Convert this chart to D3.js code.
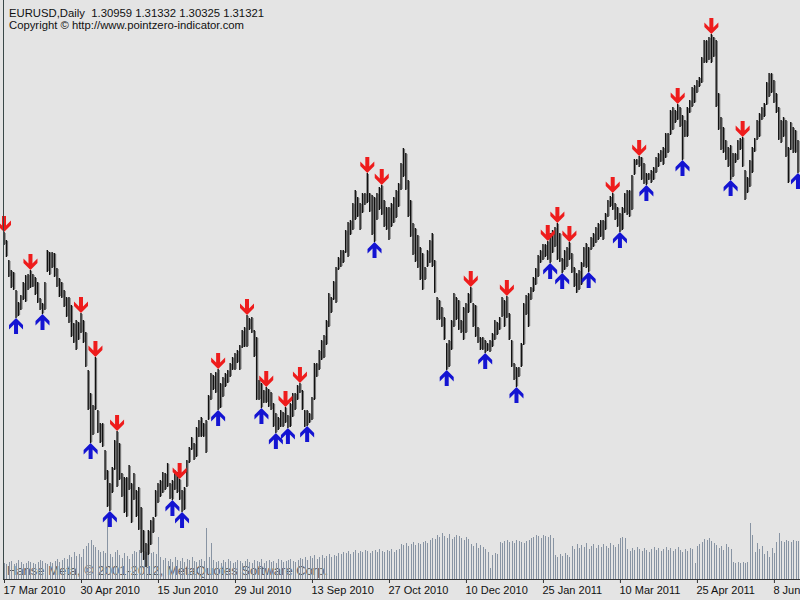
<!DOCTYPE html>
<html>
<head>
<meta charset="utf-8">
<script src="https://cdn.jsdelivr.net/npm/d3@7"></script>
<style>
  html, body { margin: 0; padding: 0; background: #e4e4e4; }
  svg { display: block; }
  text { font-family: "Liberation Sans", Arial, sans-serif; }
</style>
</head>
<body>
<svg width="800" height="600"></svg>
<script>
// daily EURUSD bars (prices)
const highs = [
  1.3808,1.3760,1.3640,1.3580,1.3568,1.3460,1.3388,1.3430,1.3508,1.3550,
  1.3556,1.3580,1.3556,1.3538,1.3508,1.3412,1.3382,1.3508,1.3700,1.3688,
  1.3688,1.3682,1.3592,1.3532,1.3508,1.3460,1.3418,1.3418,1.3370,1.3262,
  1.3280,1.3268,1.3322,1.3280,1.3208,1.2980,1.2842,1.2770,1.3058,1.2740,
  1.2662,1.2662,1.2500,1.2380,1.2302,1.2398,1.2560,1.2614,1.2542,1.2362,
  1.2338,1.2338,1.2410,1.2302,1.2362,1.2260,1.2278,1.2158,1.2020,1.1942,
  1.2020,1.2080,1.2098,1.2260,1.2302,1.2320,1.2368,1.2362,1.2422,1.2302,
  1.2320,1.2380,1.2368,1.2326,1.2260,1.2278,1.2440,1.2518,1.2578,1.2542,
  1.2638,1.2680,1.2698,1.2662,1.2680,1.2830,1.2962,1.2950,1.2968,1.2986,
  1.2902,1.2938,1.2962,1.2980,1.3022,1.3058,1.3082,1.3100,1.3130,1.3220,
  1.3238,1.3310,1.3292,1.3298,1.3220,1.3178,1.2920,1.2902,1.2860,1.2878,
  1.2866,1.2848,1.2782,1.2722,1.2698,1.2740,1.2728,1.2758,1.2710,1.2782,
  1.2842,1.2842,1.2890,1.2902,1.2860,1.2740,1.2740,1.2722,1.2818,1.3022,
  1.3022,1.3100,1.3160,1.3190,1.3280,1.3442,1.3418,1.3514,1.3598,1.3658,
  1.3700,1.3700,1.3820,1.3868,1.3880,1.3982,1.4060,1.4018,1.3982,1.4042,
  1.4042,1.4162,1.4042,1.4030,1.4018,1.4042,1.4078,1.4090,1.4000,1.3958,
  1.3958,1.3982,1.4018,1.4060,1.4102,1.4222,1.4312,1.4282,1.4120,1.4000,
  1.3862,1.3832,1.3790,1.3718,1.3682,1.3598,1.3700,1.3760,1.3802,1.3640,
  1.3418,1.3400,1.3358,1.3298,1.3142,1.3160,1.3280,1.3442,1.3418,1.3400,
  1.3280,1.3358,1.3382,1.3442,1.3478,1.3382,1.3370,1.3238,1.3178,1.3178,
  1.3160,1.3142,1.3160,1.3202,1.3280,1.3268,1.3298,1.3418,1.3400,1.3424,
  1.3322,1.3160,1.3022,1.2998,1.2998,1.3142,1.3382,1.3430,1.3442,1.3478,
  1.3538,1.3592,1.3670,1.3700,1.3736,1.3736,1.3754,1.3802,1.3820,1.3838,
  1.3862,1.3802,1.3652,1.3700,1.3718,1.3748,1.3682,1.3598,1.3562,1.3580,
  1.3628,1.3718,1.3742,1.3718,1.3778,1.3802,1.3838,1.3862,1.3880,1.3880,
  1.3922,1.4000,1.4024,1.4042,1.3982,1.3958,1.3922,1.3958,1.4042,1.4060,
  1.4060,1.4150,1.4246,1.4246,1.4264,1.4258,1.4222,1.4162,1.4162,1.4180,
  1.4198,1.4258,1.4282,1.4300,1.4318,1.4402,1.4402,1.4540,1.4558,1.4540,
  1.4576,1.4558,1.4510,1.4480,1.4558,1.4600,1.4678,1.4690,1.4720,1.4738,
  1.4858,1.4960,1.4960,1.4978,1.4996,1.4978,1.4960,1.4642,1.4498,1.4438,
  1.4360,1.4318,1.4330,1.4282,1.4282,1.4360,1.4372,1.4378,1.4180,1.4138,
  1.4240,1.4318,1.4372,1.4480,1.4522,1.4558,1.4582,1.4708,1.4762,1.4762,
  1.4720,1.4642,1.4558,1.4480,1.4498,1.4480,1.4318,1.4468,1.4438,1.4420,
  1.4360
];
const lows = [
  1.3730,1.3658,1.3538,1.3472,1.3460,1.3292,1.3304,1.3340,1.3400,1.3388,
  1.3460,1.3472,1.3478,1.3430,1.3382,1.3340,1.3316,1.3340,1.3568,1.3550,
  1.3592,1.3538,1.3478,1.3418,1.3412,1.3358,1.3298,1.3262,1.3178,1.3142,
  1.3100,1.3160,1.3202,1.3142,1.2998,1.2740,1.2542,1.2590,1.2740,1.2602,
  1.2542,1.2518,1.2320,1.2158,1.2134,1.2242,1.2380,1.2278,1.2320,1.2218,
  1.2122,1.2098,1.2260,1.2062,1.2200,1.2098,1.2020,1.1882,1.1840,1.1798,
  1.1870,1.1930,1.2002,1.2098,1.2182,1.2218,1.2242,1.2260,1.2278,1.2206,
  1.2200,1.2260,1.2242,1.2200,1.2128,1.2140,1.2278,1.2422,1.2500,1.2440,
  1.2458,1.2578,1.2578,1.2578,1.2482,1.2680,1.2800,1.2860,1.2842,1.2740,
  1.2752,1.2818,1.2878,1.2902,1.2938,1.2980,1.2980,1.3022,1.2980,1.3112,
  1.3118,1.3118,1.3220,1.3202,1.3058,1.2800,1.2800,1.2752,1.2782,1.2782,
  1.2758,1.2740,1.2638,1.2602,1.2620,1.2638,1.2638,1.2662,1.2632,1.2638,
  1.2698,1.2740,1.2800,1.2842,1.2740,1.2638,1.2644,1.2662,1.2680,1.2800,
  1.2938,1.2980,1.3040,1.3052,1.3130,1.3238,1.3322,1.3400,1.3382,1.3580,
  1.3598,1.3622,1.3682,1.3658,1.3790,1.3820,1.3880,1.3898,1.3820,1.3922,
  1.3970,1.3982,1.3928,1.3790,1.3748,1.3880,1.3940,1.3910,1.3838,1.3820,
  1.3760,1.3838,1.3862,1.3892,1.3958,1.4060,1.4138,1.4060,1.3898,1.3778,
  1.3670,1.3628,1.3592,1.3520,1.3460,1.3520,1.3598,1.3622,1.3598,1.3442,
  1.3280,1.3280,1.3238,1.3160,1.2980,1.2998,1.3100,1.3238,1.3280,1.3220,
  1.3202,1.3160,1.3202,1.3322,1.3382,1.3238,1.3178,1.3142,1.3100,1.3100,
  1.3082,1.3094,1.3088,1.3118,1.3160,1.3190,1.3220,1.3298,1.3238,1.3292,
  1.3160,1.2998,1.2920,1.2878,1.2938,1.2998,1.3130,1.3310,1.3238,1.3400,
  1.3448,1.3490,1.3538,1.3622,1.3640,1.3658,1.3640,1.3622,1.3682,1.3718,
  1.3640,1.3628,1.3562,1.3580,1.3598,1.3640,1.3562,1.3478,1.3442,1.3460,
  1.3490,1.3598,1.3592,1.3568,1.3700,1.3718,1.3742,1.3760,1.3778,1.3760,
  1.3820,1.3898,1.3958,1.3940,1.3880,1.3838,1.3808,1.3820,1.3922,1.3910,
  1.3898,1.3940,1.4150,1.4210,1.4198,1.4120,1.4096,1.4090,1.4120,1.4102,
  1.4120,1.4162,1.4198,1.4228,1.4210,1.4252,1.4282,1.4390,1.4420,1.4462,
  1.4480,1.4438,1.4240,1.4378,1.4378,1.4522,1.4558,1.4582,1.4642,1.4678,
  1.4702,1.4822,1.4822,1.4840,1.4822,1.4858,1.4558,1.4420,1.4300,1.4282,
  1.4240,1.4198,1.4120,1.4138,1.4222,1.4240,1.4300,1.4198,1.4000,1.4042,
  1.4078,1.4162,1.4288,1.4360,1.4378,1.4480,1.4498,1.4570,1.4618,1.4642,
  1.4582,1.4522,1.4360,1.4342,1.4378,1.4258,1.4102,1.4300,1.4282,1.4282,
  1.4162
];
// tick volume per bar (thousands)
const volumes = [
  16,15,17,18,15,16,19,17,15,16, 18,17,16,15,17,19,18,16,15,17,
  16,18,20,17,19,21,20,24,22,27, 23,25,22,30,33,36,39,34,32,29,
  27,28,26,64,25,22,27,29,24,21, 26,23,20,25,28,27,29,26,28,27,
  29,26,27,25,42,22,19,21,18,20, 17,22,19,18,21,17,20,19,22,18,
  17,19,20,18,51,22,36,19,17,18, 16,19,17,20,18,16,17,19,18,16,
  18,20,17,16,19,18,17,20,16,18, 19,17,18,16,20,19,17,18,19,20,
  18,17,19,21,20,22,19,23,21,24, 20,22,24,21,23,25,22,24,23,26,
  25,27,26,28,25,27,29,26,28,27, 29,28,26,28,29,27,30,28,27,29,
  28,30,27,29,30,35,34,36,33,35, 37,34,36,35,37,38,36,39,41,40,
  44,42,46,43,41,45,40,42,44,43, 41,39,42,40,35,33,36,31,34,32,
  30,27,11,24,26,25,37,36,38,39, 37,38,36,39,38,37,36,38,39,41,
  42,44,43,41,44,43,42,44,41,24, 22,25,23,26,24,22,33,30,35,31,
  34,32,36,30,33,35,31,34,32,35, 33,31,36,34,32,35,41,42,41,30,
  28,31,29,32,30,28,31,29,27,30, 32,29,31,28,30,32,29,31,28,30,
  32,29,27,30,28,31,30,16,33,35, 37,40,39,41,38,36,34,31,33,29,
  35,32,30,17,16,17,16,17,16,17, 56,44,27,36,30,33,25,28,22,31,
  26,37,46,38,37,39,38,37,39,38, 38
];
// bars carrying the signal arrows
const downArrows = [0, 11, 32, 38, 47, 73, 89, 101, 109, 117, 123, 151, 157, 194, 209, 226, 230, 235, 253, 264, 280, 294, 307];
const upArrows = [5, 16, 36, 44, 70, 74, 89, 107, 113, 118, 126, 154, 184, 200, 213, 227, 232, 243, 256, 267, 282, 302, 330];
// time axis labels, one every 32 bars (the last one runs off the right edge)
const dateTicks = [0, 32, 64, 96, 128, 160, 192, 224, 256, 288, 320];
const dateLabels = ["17 Mar 2010", "30 Apr 2010", "15 Jun 2010", "29 Jul 2010", "13 Sep 2010", "27 Oct 2010",
                    "10 Dec 2010", "25 Jan 2011", "10 Mar 2011", "25 Apr 2011", "8 Jun"];

const headerLine = "EURUSD,Daily  1.30959 1.31332 1.30325 1.31321";
const copyLine = "Copyright \u00a9 http://www.pointzero-indicator.com";
const footLine = "Hanse Meta, \u00a9 2001-2012, MetaQuotes Software Corp.";

const W = 800, H = 600;
const axisY = 579;

const svg = d3.select("svg");

svg.append("rect").attr("width", W).attr("height", H).attr("fill", "#e4e4e4");

const x = d3.scaleLinear().domain([0, 330]).range([4, 4 + 330 * 2.406]);
const y = d3.scaleLinear().domain([1.16, 1.52]).range([600, 0]);
const v = d3.scaleLinear().domain([0, 80]).range([axisY, axisY - 80]);

const idx = d3.range(highs.length);

// footer text sits under the volume histogram
svg.append("text")
  .attr("x", 7)
  .attr("y", 575)
  .attr("font-size", 13)
  .attr("fill", "#5c5c5c")
  .text(footLine);

// volumes
svg.append("g")
  .selectAll("line")
  .data(idx)
  .join("line")
    .attr("x1", i => Math.round(x(i)) + 0.5)
    .attr("x2", i => Math.round(x(i)) + 0.5)
    .attr("y1", axisY)
    .attr("y2", i => v(volumes[i]))
    .attr("stroke", "#8894a3")
    .attr("stroke-width", 1);

// price bars: dark high-low stroke with a grey shadow (open/close ticks blur into it)
const barG = svg.append("g");
barG.selectAll(".shade")
  .data(idx)
  .join("line")
    .attr("class", "shade")
    .attr("x1", i => x(i) + 1.2)
    .attr("x2", i => x(i) + 1.2)
    .attr("y1", i => y(highs[i]) + 1)
    .attr("y2", i => y(lows[i]) - 1)
    .attr("stroke", "#7a7a7a")
    .attr("stroke-width", 1);
barG.selectAll(".hl")
  .data(idx)
  .join("line")
    .attr("class", "hl")
    .attr("x1", i => x(i))
    .attr("x2", i => x(i))
    .attr("y1", i => y(highs[i]))
    .attr("y2", i => y(lows[i]))
    .attr("stroke", "#111")
    .attr("stroke-width", 1.4);

// arrows: tip touches the high (down) or the low (up)
const upShape = "M0,0 L7,7 L7,11.5 L2,6.5 L2,16 L-2,16 L-2,6.5 L-7,11.5 L-7,7 Z";

svg.append("g")
  .selectAll("path")
  .data(downArrows)
  .join("path")
    .attr("d", upShape)
    .attr("transform", i => `translate(${x(i)},${y(highs[i])}) scale(1,-1)`)
    .attr("fill", "#ee1c1c");

svg.append("g")
  .selectAll("path")
  .data(upArrows)
  .join("path")
    .attr("d", upShape)
    .attr("transform", i => `translate(${x(i)},${y(lows[i])})`)
    .attr("fill", "#1414d2");

// frame
svg.append("line")
  .attr("x1", 3.5).attr("x2", 3.5)
  .attr("y1", 0).attr("y2", axisY)
  .attr("stroke", "#3a4848").attr("stroke-width", 1);

const xAxis = d3.axisBottom(x)
  .tickValues(dateTicks)
  .tickFormat((d, k) => dateLabels[k])
  .tickSize(4)
  .tickSizeOuter(0);

const axisG = svg.append("g")
  .attr("transform", `translate(0,${axisY})`)
  .call(xAxis);
axisG.select(".domain").remove();
axisG.selectAll(".tick line").attr("stroke", "#333");
axisG.selectAll(".tick text")
  .attr("text-anchor", "start")
  .attr("x", -1)
  .attr("y", 7)
  .attr("dy", "0.71em")
  .attr("fill", "#111")
  .style("font-family", "'Liberation Sans', Arial, sans-serif")
  .style("font-size", "11px");

svg.append("line")
  .attr("x1", 3).attr("x2", W)
  .attr("y1", axisY + 0.5).attr("y2", axisY + 0.5)
  .attr("stroke", "#333").attr("stroke-width", 1);

// header
svg.append("text")
  .attr("x", 9).attr("y", 17)
  .attr("font-size", 11.3)
  .attr("fill", "#111")
  .style("white-space", "pre")
  .text(headerLine);
svg.append("text")
  .attr("x", 9).attr("y", 29)
  .attr("font-size", 11.3)
  .attr("fill", "#111")
  .text(copyLine);
</script>
</body>
</html>
